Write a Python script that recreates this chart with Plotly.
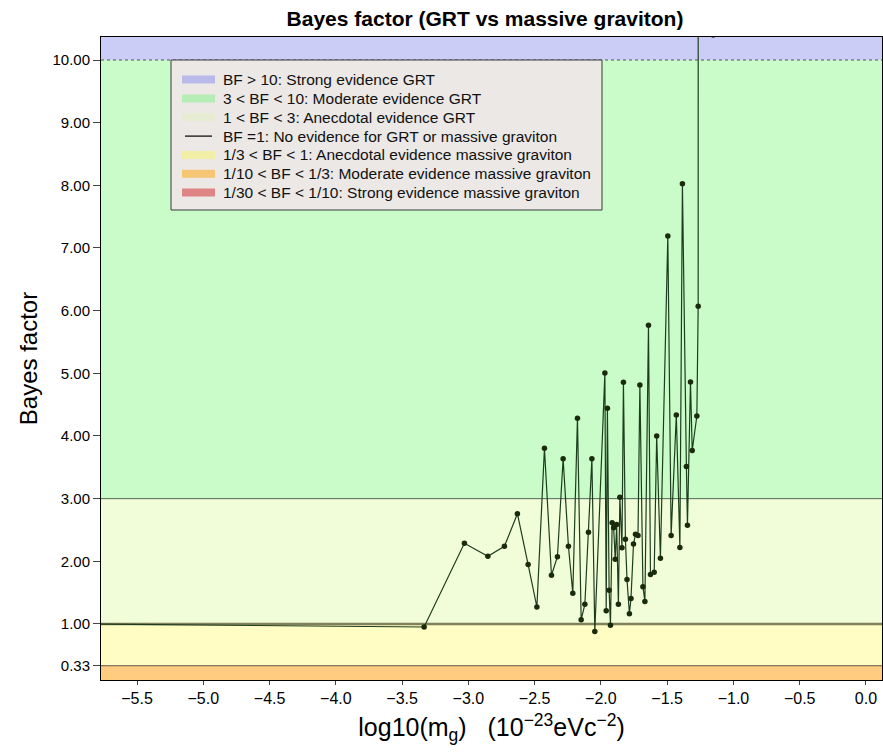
import plotly.graph_objects as go

# ---- data ----
log_mg = [-5.90, -3.334, -3.030, -2.853, -2.728, -2.630, -2.549, -2.483, -2.426, -2.373,
          -2.328, -2.285, -2.245, -2.212, -2.177, -2.149, -2.121, -2.094, -2.068, -2.046,
          -1.970, -1.960, -1.951, -1.938, -1.928, -1.915, -1.904, -1.892, -1.881, -1.868,
          -1.857, -1.841, -1.830, -1.815, -1.803, -1.785, -1.773, -1.754, -1.739, -1.720,
          -1.706, -1.683, -1.668, -1.641, -1.626, -1.598, -1.579, -1.551, -1.495, -1.470,
          -1.431, -1.404, -1.385, -1.355, -1.347, -1.324, -1.311, -1.276, -1.266, -1.265,
          -1.153]
bayes = [1.00, 0.952, 2.288, 2.080, 2.240, 2.760, 1.949, 1.271, 3.804, 1.777,
         2.074, 3.638, 2.240, 1.490, 4.282, 1.069, 1.314, 2.463, 3.638, 0.880,
         5.005, 1.212, 4.442, 1.538, 0.979, 2.616, 2.537, 2.034, 2.588, 1.316,
         3.022, 2.217, 4.857, 2.352, 1.710, 1.163, 1.407, 2.277, 2.431, 2.412,
         4.814, 1.595, 1.359, 5.766, 1.790, 1.827, 4.000, 2.048, 7.191, 2.412,
         4.335, 2.221, 8.026, 3.513, 2.575, 4.862, 3.768, 4.319, 6.069, 40.0,
         10.40]

y_tickvals = [0.33, 1, 2, 3, 4, 5, 6, 7, 8, 9, 10]
y_ticktext = ["0.33", "1.00", "2.00", "3.00", "4.00", "5.00", "6.00", "7.00", "8.00", "9.00", "10.00"]
x_tickvals = [-5.5, -5.0, -4.5, -4.0, -3.5, -3.0, -2.5, -2.0, -1.5, -1.0, -0.5, 0.0]
x_ticktext = ["\u22125.5", "\u22125.0", "\u22124.5", "\u22124.0", "\u22123.5", "\u22123.0",
              "\u22122.5", "\u22122.0", "\u22121.5", "\u22121.0", "\u22120.5", "0.0"]

band_labels = ["BF > 10: Strong evidence GRT",
               "3 < BF < 10: Moderate evidence GRT",
               "1 < BF < 3: Anecdotal evidence GRT",
               "BF =1: No evidence for GRT or massive graviton",
               "1/3 < BF < 1: Anecdotal evidence massive graviton",
               "1/10 < BF < 1/3: Moderate evidence massive graviton",
               "1/30 < BF < 1/10: Strong evidence massive graviton"]
band_lo = [10, 3, 1, None, 1/3, 1/10, 1/30]
band_hi = [100, 10, 3, None, 1, 1/3, 1/10]
band_fill = ["#cccdf7", "#c9fcc9", "#f0fdd8", None, "#fffdc4", "#ffcc80", "#f2a0a0"]
band_legend = ["#b9b9ea", "#b6ecb6", "#e6ecd2", "black", "#f3eea6", "#f6c674", "#e08585"]

XR = [-5.772, 0.121]
YR = [0.106, 10.367]

# plot area in pixels (for placing the hand-drawn legend)
PL, PR, PT, PB = 101, 882, 37, 680
def px(x):
    return (x - PL) / (PR - PL)
def py(y):
    return (PB - y) / (PB - PT)

fig = go.Figure()

shapes = []
for lo, hi, col in zip(band_lo, band_hi, band_fill):
    if lo is None:
        continue
    shapes.append(dict(type="rect", xref="paper", yref="y", x0=0, x1=1, y0=lo, y1=hi,
                       fillcolor=col, line=dict(width=0), layer="below"))
# boundary lines
shapes.append(dict(type="line", xref="paper", yref="y", x0=0, x1=1, y0=10, y1=10,
                   line=dict(color="#555555", width=1, dash="dot"), layer="below"))
shapes.append(dict(type="line", xref="paper", yref="y", x0=0, x1=1, y0=3, y1=3,
                   line=dict(color="#556655", width=1), layer="below"))
shapes.append(dict(type="line", xref="paper", yref="y", x0=0, x1=1, y0=1, y1=1,
                   line=dict(color="#80805a", width=2.5), layer="below"))
shapes.append(dict(type="line", xref="paper", yref="y", x0=0, x1=1, y0=1/3, y1=1/3,
                   line=dict(color="#665544", width=1), layer="below"))

# legend box (drawn by hand so spacing matches)
annotations = []
shapes.append(dict(type="rect", xref="paper", yref="paper",
                   x0=px(171), x1=px(602), y0=py(210), y1=py(60),
                   fillcolor="#ebe8e6", line=dict(color="#3a3a3a", width=1), layer="above"))
row_y = [79.5, 98.5, 117.3, 136.1, 154.9, 173.7, 192.5]
for lab, col, ry in zip(band_labels, band_legend, row_y):
    w = 1.2 if col == "black" else 8
    x0 = 185 if col == "black" else 182
    x1 = 212 if col == "black" else 215
    shapes.append(dict(type="line", xref="paper", yref="paper",
                       x0=px(x0), x1=px(x1), y0=py(ry), y1=py(ry),
                       line=dict(color=col, width=w), layer="above"))
    annotations.append(dict(text=lab, xref="paper", yref="paper", x=px(221), y=py(ry),
                            xanchor="left", yanchor="middle", showarrow=False,
                            font=dict(size=15.5, color="#111111")))

fig.add_trace(go.Scatter(x=log_mg, y=bayes, mode="lines+markers", showlegend=False,
                         line=dict(color="#1e3d1e", width=1.2),
                         marker=dict(color="#1a2a0c", size=5.5)))

fig.update_layout(
    width=883, height=753,
    margin=dict(l=101, r=1, t=37, b=73),
    paper_bgcolor="white", plot_bgcolor="white",
    font=dict(family="Liberation Sans, Arial, sans-serif", color="black"),
    shapes=shapes,
    annotations=annotations,
    showlegend=False,
    title=dict(text="<b>Bayes factor (GRT vs massive graviton)</b>",
               x=485 / 883, xanchor="center", y=1 - 19 / 753, yanchor="middle",
               font=dict(size=21)),
    xaxis=dict(range=XR, tickvals=x_tickvals, ticktext=x_ticktext,
               showgrid=False, zeroline=False, showline=True, linecolor="black",
               mirror=True, ticks="outside", ticklen=4,
               tickfont=dict(size=16),
               title=dict(text="log10(m<sub>g</sub>)\u00a0\u00a0\u00a0(10<sup>\u221223</sup>eVc<sup>\u22122</sup>)",
                          font=dict(size=25), standoff=12)),
    yaxis=dict(range=YR, tickvals=y_tickvals, ticktext=y_ticktext,
               showgrid=False, zeroline=False, showline=True, linecolor="black",
               mirror=True, ticks="outside", ticklen=7,
               tickfont=dict(size=15),
               title=dict(text="Bayes factor", font=dict(size=24), standoff=8)),
)

fig.write_html("out.html")
